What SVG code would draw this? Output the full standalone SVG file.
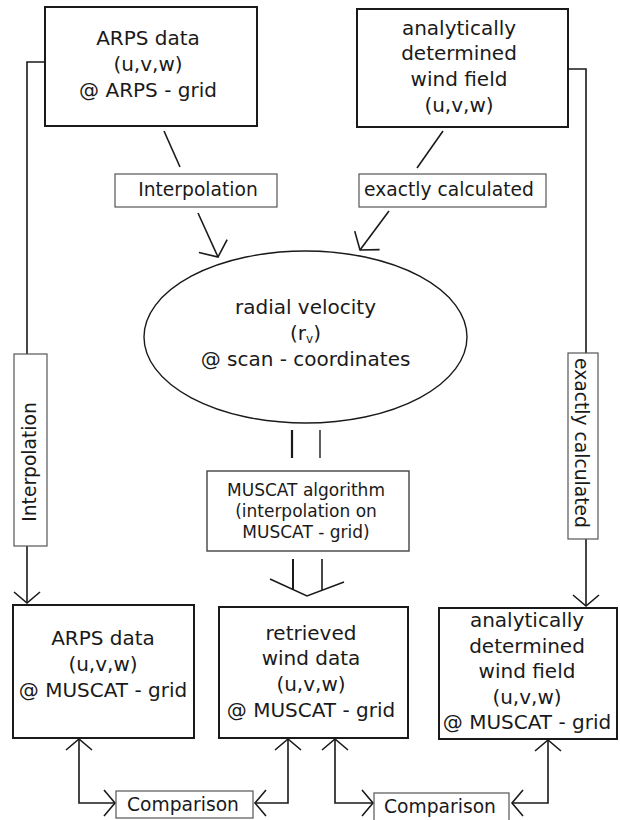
<svg xmlns="http://www.w3.org/2000/svg" width="620" height="820" viewBox="0 0 620 820">
<style>
.box{fill:#fff;stroke:#1a1a1a;stroke-width:2}
.lbl{fill:#fff;stroke:#555;stroke-width:1.2}
.t{font-family:"DejaVu Sans",sans-serif;font-size:20px;fill:#1a1a1a;text-anchor:middle}
.tl{font-size:18.7px}
.tm{font-size:17px}
.c{fill:none;stroke:#1a1a1a;stroke-width:1.6}
</style>
<defs>
<marker id="a" viewBox="-20 -20 40 40" markerWidth="40" markerHeight="40" refX="0" refY="0" orient="auto-start-reverse" markerUnits="userSpaceOnUse"><path d="M-11,-13 L0,0 L-11,13" fill="none" stroke="#1a1a1a" stroke-width="1.6"/></marker>
<marker id="aL" viewBox="-20 -20 40 40" markerWidth="40" markerHeight="40" refX="0" refY="0" orient="auto" markerUnits="userSpaceOnUse"><path d="M-12,-15.5 L0,0 L-12,15.5" fill="none" stroke="#1a1a1a" stroke-width="1.6"/></marker>
</defs>
<rect width="620" height="820" fill="#fff"/>
<g id="connectors">
<polyline class="c" points="45,62 27,62 27,354"/>
<line class="c" x1="27" y1="546" x2="27" y2="603" marker-end="url(#a)"/>
<polyline class="c" points="568,69 586,69 586,353"/>
<line class="c" x1="586" y1="539" x2="586" y2="606" marker-end="url(#a)"/>
<line class="c" x1="164" y1="131" x2="180" y2="167"/>
<line class="c" x1="198" y1="213" x2="218" y2="257" marker-end="url(#aL)"/>
<line class="c" x1="443" y1="131" x2="417" y2="168"/>
<line class="c" x1="389" y1="211" x2="360" y2="250" marker-end="url(#aL)"/>
<line x1="292" y1="430" x2="292" y2="458" stroke="#1a1a1a" stroke-width="2.2"/>
<line x1="320" y1="430" x2="320" y2="458" stroke="#1a1a1a" stroke-width="1.4"/>
<line x1="293" y1="559" x2="293" y2="590" stroke="#1a1a1a" stroke-width="2"/>
<line x1="322" y1="559" x2="322" y2="590" stroke="#1a1a1a" stroke-width="1.6"/>
<polyline class="c" points="270,579 307,596 344,582" stroke-width="2"/>
<polyline class="c" points="79,739 79,803 115,803" marker-start="url(#a)" marker-end="url(#a)"/>
<polyline class="c" points="255,803 288,803 288,739" marker-start="url(#a)" marker-end="url(#a)"/>
<polyline class="c" points="335,739 335,803 373,803" marker-start="url(#a)" marker-end="url(#a)"/>
<polyline class="c" points="512,803 548,803 548,740" marker-start="url(#a)" marker-end="url(#a)"/>
</g>
<g id="arps-top">
<rect class="box" x="45" y="7" width="212" height="119"/>
<text class="t" x="148" y="45">ARPS data</text>
<text class="t" x="148" y="71">(u,v,w)</text>
<text class="t" x="148" y="97">@ ARPS - grid</text>
</g>
<g id="analytic-top">
<rect class="box" x="357" y="9" width="211" height="118"/>
<text class="t" x="459" y="35">analytically</text>
<text class="t" x="459" y="60">determined</text>
<text class="t" x="459" y="86">wind field</text>
<text class="t" x="459" y="112">(u,v,w)</text>
</g>
<g id="label-interp-top">
<rect class="lbl" x="115" y="174" width="162" height="33"/>
<text class="t tl" x="198" y="196">Interpolation</text>
</g>
<g id="label-exact-top">
<rect class="lbl" x="359" y="174" width="187" height="33"/>
<text class="t tl" x="449" y="196">exactly calculated</text>
</g>
<g id="radial">
<ellipse cx="305.5" cy="337" rx="161.5" ry="86" fill="#fff" stroke="#1a1a1a" stroke-width="1.4"/>
<text class="t" x="305.5" y="314">radial velocity</text>
<text class="t" x="305.5" y="340"><tspan>(r</tspan><tspan font-size="12" dy="3">v</tspan><tspan dy="-3">)</tspan></text>
<text class="t" x="305.5" y="366">@ scan - coordinates</text>
</g>
<g id="label-interp-left">
<rect class="lbl" x="14" y="354" width="33" height="192"/>
<text class="t tl" transform="translate(36,462) rotate(-90)" x="0" y="0">Interpolation</text>
</g>
<g id="label-exact-right">
<rect class="lbl" x="568" y="353" width="30" height="186"/>
<text class="t tl" transform="translate(575,443) rotate(90)" x="0" y="0">exactly calculated</text>
</g>
<g id="muscat">
<rect x="207" y="471" width="202" height="80" fill="#fff" stroke="#444" stroke-width="1.4"/>
<text class="t tm" x="306" y="496">MUSCAT algorithm</text>
<text class="t tm" x="306" y="517">(interpolation on</text>
<text class="t tm" x="306" y="538">MUSCAT - grid)</text>
</g>
<g id="arps-muscat">
<rect class="box" x="13" y="605" width="181" height="133"/>
<text class="t" x="103" y="645">ARPS data</text>
<text class="t" x="103" y="671">(u,v,w)</text>
<text class="t" x="103" y="697">@ MUSCAT - grid</text>
</g>
<g id="retrieved">
<rect class="box" x="219" y="607" width="189" height="131"/>
<text class="t" x="311" y="640">retrieved</text>
<text class="t" x="311" y="665">wind data</text>
<text class="t" x="311" y="691">(u,v,w)</text>
<text class="t" x="311" y="717">@ MUSCAT - grid</text>
</g>
<g id="analytic-muscat">
<rect class="box" x="439" y="608" width="178" height="131"/>
<text class="t" x="527" y="627">analytically</text>
<text class="t" x="527" y="653">determined</text>
<text class="t" x="527" y="678">wind field</text>
<text class="t" x="527" y="704">(u,v,w)</text>
<text class="t" x="527" y="729">@ MUSCAT - grid</text>
</g>
<g id="comparison-1">
<rect class="lbl" x="116" y="791" width="137" height="27"/>
<text class="t tl" x="183" y="811">Comparison</text>
</g>
<g id="comparison-2">
<rect class="lbl" x="374" y="793" width="135" height="32" stroke="#888"/>
<text class="t tl" x="440" y="813">Comparison</text>
</g>
</svg>
